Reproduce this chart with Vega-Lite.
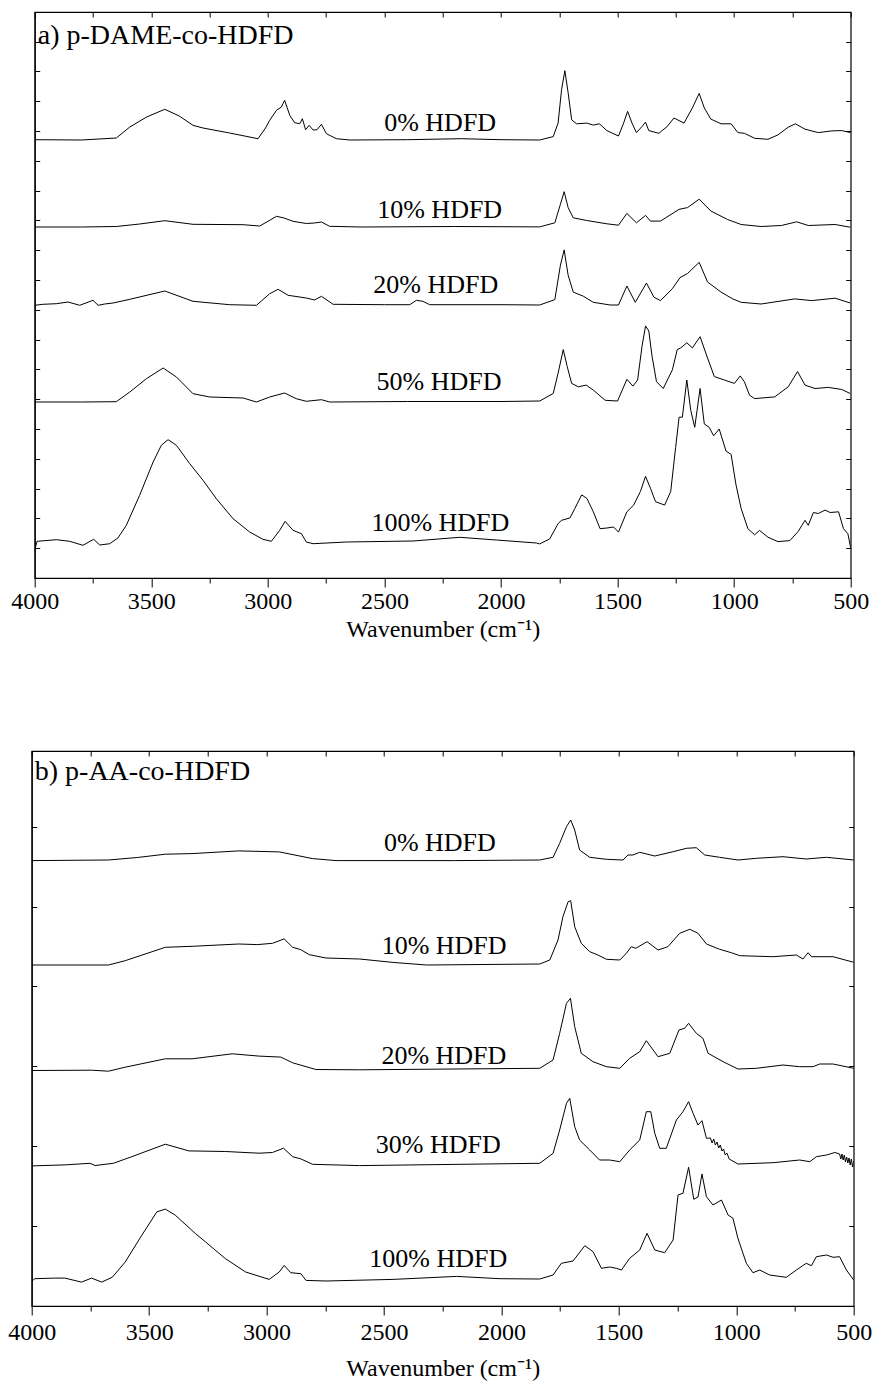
{
  "$schema": "https://vega.github.io/schema/vega-lite/v6.json",
  "padding": {"left": 6.5, "top": 10, "right": 0, "bottom": 0},
  "autosize": {"type": "pad"},
  "center": true,
  "spacing": 107,
  "config": {
    "font": "Liberation Serif, Times New Roman, serif",
    "view": {"stroke": "black", "strokeWidth": 1.2},
    "axis": {"grid": false, "domainColor": "black", "tickColor": "black", "labelColor": "black", "titleColor": "black", "labelFont": "Liberation Serif, Times New Roman, serif", "titleFont": "Liberation Serif, Times New Roman, serif", "titleFontWeight": "normal", "tickWidth": 1, "domainWidth": 1.2},
    "text": {"font": "Liberation Serif, Times New Roman, serif", "color": "black"}
  },
  "datasets": {
    "a": [
      {"s":"0%","w":4000,"h":438.3},{"s":"0%","w":3800,"h":438},{"s":"0%","w":3650,"h":440},{"s":"0%","w":3592,"h":451},{"s":"0%","w":3520,"h":461},{"s":"0%","w":3442,"h":468.7},{"s":"0%","w":3380,"h":462},{"s":"0%","w":3321,"h":452.7},{"s":"0%","w":3278,"h":450},{"s":"0%","w":3164,"h":445},{"s":"0%","w":3042,"h":439.3},{"s":"0%","w":3010,"h":450},{"s":"0%","w":2992,"h":457.7},{"s":"0%","w":2963,"h":467.7},{"s":"0%","w":2942,"h":471},{"s":"0%","w":2928,"h":477.7},{"s":"0%","w":2906,"h":462.7},{"s":"0%","w":2885,"h":455.3},{"s":"0%","w":2863,"h":454.3},{"s":"0%","w":2852,"h":459.3},{"s":"0%","w":2838,"h":448.3},{"s":"0%","w":2823,"h":452.7},{"s":"0%","w":2806,"h":448},{"s":"0%","w":2789,"h":448.3},{"s":"0%","w":2770,"h":453.7},{"s":"0%","w":2749,"h":444.3},{"s":"0%","w":2706,"h":439.3},{"s":"0%","w":2649,"h":438},{"s":"0%","w":2400,"h":438.3},{"s":"0%","w":2170,"h":439.3},{"s":"0%","w":2000,"h":438.3},{"s":"0%","w":1834,"h":438},{"s":"0%","w":1776,"h":441.4},{"s":"0%","w":1755,"h":454.9},{"s":"0%","w":1740,"h":488.7},{"s":"0%","w":1726,"h":507.3},{"s":"0%","w":1712,"h":485.3},{"s":"0%","w":1697,"h":458.3},{"s":"0%","w":1676,"h":454.2},{"s":"0%","w":1632,"h":454.9},{"s":"0%","w":1604,"h":452.9},{"s":"0%","w":1578,"h":454.2},{"s":"0%","w":1546,"h":447.4},{"s":"0%","w":1496,"h":442},{"s":"0%","w":1474,"h":454.9},{"s":"0%","w":1457,"h":466.7},{"s":"0%","w":1438,"h":454.9},{"s":"0%","w":1419,"h":445.4},{"s":"0%","w":1395,"h":451.5},{"s":"0%","w":1380,"h":455.9},{"s":"0%","w":1366,"h":447.4},{"s":"0%","w":1323,"h":444.7},{"s":"0%","w":1287,"h":451.5},{"s":"0%","w":1258,"h":460},{"s":"0%","w":1215,"h":454.9},{"s":"0%","w":1179,"h":470.1},{"s":"0%","w":1150,"h":484.6},{"s":"0%","w":1128,"h":470.1},{"s":"0%","w":1100,"h":458.9},{"s":"0%","w":1056,"h":454.2},{"s":"0%","w":1013,"h":454.2},{"s":"0%","w":984,"h":445.4},{"s":"0%","w":956,"h":444.7},{"s":"0%","w":912,"h":439.7},{"s":"0%","w":855,"h":438.7},{"s":"0%","w":812,"h":443.1},{"s":"0%","w":768,"h":450.8},{"s":"0%","w":737,"h":454.2},{"s":"0%","w":696,"h":448.8},{"s":"0%","w":639,"h":445.4},{"s":"0%","w":581,"h":447.1},{"s":"0%","w":538,"h":447.4},{"s":"0%","w":500,"h":445.4},
      {"s":"10%","w":4000,"h":351},{"s":"10%","w":3800,"h":351},{"s":"10%","w":3650,"h":351.5},{"s":"10%","w":3550,"h":354},{"s":"10%","w":3442,"h":357.3},{"s":"10%","w":3321,"h":353.7},{"s":"10%","w":3106,"h":353.3},{"s":"10%","w":3035,"h":352},{"s":"10%","w":2990,"h":358},{"s":"10%","w":2963,"h":361.7},{"s":"10%","w":2930,"h":360},{"s":"10%","w":2892,"h":356.7},{"s":"10%","w":2835,"h":354.5},{"s":"10%","w":2800,"h":355},{"s":"10%","w":2770,"h":356},{"s":"10%","w":2735,"h":351.7},{"s":"10%","w":2600,"h":351},{"s":"10%","w":2200,"h":351.5},{"s":"10%","w":1834,"h":351.1},{"s":"10%","w":1769,"h":355.2},{"s":"10%","w":1745,"h":373.8},{"s":"10%","w":1729,"h":386.3},{"s":"10%","w":1712,"h":370.4},{"s":"10%","w":1690,"h":360.2},{"s":"10%","w":1632,"h":357.5},{"s":"10%","w":1546,"h":354.2},{"s":"10%","w":1496,"h":352.8},{"s":"10%","w":1460,"h":364.6},{"s":"10%","w":1419,"h":355.2},{"s":"10%","w":1380,"h":362.6},{"s":"10%","w":1359,"h":356.9},{"s":"10%","w":1316,"h":356.9},{"s":"10%","w":1236,"h":368.7},{"s":"10%","w":1200,"h":370.4},{"s":"10%","w":1150,"h":378.8},{"s":"10%","w":1100,"h":367},{"s":"10%","w":1028,"h":358.5},{"s":"10%","w":970,"h":353.5},{"s":"10%","w":884,"h":351.5},{"s":"10%","w":797,"h":352.5},{"s":"10%","w":732,"h":356.2},{"s":"10%","w":682,"h":352.5},{"s":"10%","w":567,"h":353.5},{"s":"10%","w":502,"h":350.8},
      {"s":"20%","w":4000,"h":272.7},{"s":"20%","w":3965,"h":273.7},{"s":"20%","w":3907,"h":274.3},{"s":"20%","w":3857,"h":276},{"s":"20%","w":3807,"h":272.7},{"s":"20%","w":3750,"h":277.7},{"s":"20%","w":3728,"h":272.7},{"s":"20%","w":3700,"h":274},{"s":"20%","w":3664,"h":275},{"s":"20%","w":3592,"h":278.7},{"s":"20%","w":3442,"h":287},{"s":"20%","w":3321,"h":276.7},{"s":"20%","w":3164,"h":273.3},{"s":"20%","w":3049,"h":272.7},{"s":"20%","w":2992,"h":284.3},{"s":"20%","w":2956,"h":288.7},{"s":"20%","w":2913,"h":282.7},{"s":"20%","w":2835,"h":280},{"s":"20%","w":2800,"h":278},{"s":"20%","w":2770,"h":281.7},{"s":"20%","w":2720,"h":273.7},{"s":"20%","w":2500,"h":273.3},{"s":"20%","w":2391,"h":273.3},{"s":"20%","w":2363,"h":277.7},{"s":"20%","w":2335,"h":276.7},{"s":"20%","w":2306,"h":273.3},{"s":"20%","w":2000,"h":273.3},{"s":"20%","w":1834,"h":273},{"s":"20%","w":1769,"h":278.4},{"s":"20%","w":1745,"h":312.9},{"s":"20%","w":1729,"h":328.1},{"s":"20%","w":1712,"h":302.8},{"s":"20%","w":1690,"h":285.9},{"s":"20%","w":1647,"h":281.8},{"s":"20%","w":1604,"h":275.7},{"s":"20%","w":1532,"h":273},{"s":"20%","w":1496,"h":273},{"s":"20%","w":1460,"h":292},{"s":"20%","w":1424,"h":275.7},{"s":"20%","w":1376,"h":295},{"s":"20%","w":1344,"h":280.8},{"s":"20%","w":1316,"h":277.4},{"s":"20%","w":1265,"h":289.3},{"s":"20%","w":1232,"h":300.4},{"s":"20%","w":1200,"h":304.5},{"s":"20%","w":1150,"h":315.6},{"s":"20%","w":1114,"h":296},{"s":"20%","w":1056,"h":285.9},{"s":"20%","w":1006,"h":279.1},{"s":"20%","w":970,"h":275.7},{"s":"20%","w":884,"h":274},{"s":"20%","w":740,"h":279.1},{"s":"20%","w":668,"h":277.4},{"s":"20%","w":567,"h":279.8},{"s":"20%","w":502,"h":275},
      {"s":"50%","w":4000,"h":176},{"s":"50%","w":3800,"h":176},{"s":"50%","w":3650,"h":176.3},{"s":"50%","w":3592,"h":186},{"s":"50%","w":3521,"h":199.3},{"s":"50%","w":3449,"h":210},{"s":"50%","w":3392,"h":201},{"s":"50%","w":3321,"h":184.3},{"s":"50%","w":3249,"h":181},{"s":"50%","w":3106,"h":180},{"s":"50%","w":3049,"h":176},{"s":"50%","w":2992,"h":181},{"s":"50%","w":2928,"h":185},{"s":"50%","w":2878,"h":179.3},{"s":"50%","w":2835,"h":176.7},{"s":"50%","w":2770,"h":178.3},{"s":"50%","w":2735,"h":176},{"s":"50%","w":2400,"h":176.5},{"s":"50%","w":2000,"h":176.5},{"s":"50%","w":1834,"h":177},{"s":"50%","w":1776,"h":184.5},{"s":"50%","w":1755,"h":204.8},{"s":"50%","w":1733,"h":228.4},{"s":"50%","w":1716,"h":211.5},{"s":"50%","w":1697,"h":194.6},{"s":"50%","w":1668,"h":191.2},{"s":"50%","w":1635,"h":192.9},{"s":"50%","w":1604,"h":187.9},{"s":"50%","w":1553,"h":177.7},{"s":"50%","w":1500,"h":177},{"s":"50%","w":1460,"h":198.7},{"s":"50%","w":1434,"h":191.9},{"s":"50%","w":1414,"h":198},{"s":"50%","w":1395,"h":231.8},{"s":"50%","w":1380,"h":252.1},{"s":"50%","w":1366,"h":247},{"s":"50%","w":1352,"h":221.7},{"s":"50%","w":1333,"h":196.3},{"s":"50%","w":1304,"h":189.5},{"s":"50%","w":1265,"h":208.1},{"s":"50%","w":1244,"h":228.4},{"s":"50%","w":1229,"h":230.1},{"s":"50%","w":1203,"h":235.2},{"s":"50%","w":1179,"h":230.1},{"s":"50%","w":1146,"h":241.3},{"s":"50%","w":1114,"h":220},{"s":"50%","w":1085,"h":201.4},{"s":"50%","w":1042,"h":198},{"s":"50%","w":999,"h":194.6},{"s":"50%","w":974,"h":202.1},{"s":"50%","w":956,"h":196.3},{"s":"50%","w":934,"h":182.8},{"s":"50%","w":912,"h":179.4},{"s":"50%","w":826,"h":181.1},{"s":"50%","w":768,"h":191.2},{"s":"50%","w":728,"h":206.5},{"s":"50%","w":696,"h":192.9},{"s":"50%","w":653,"h":189.5},{"s":"50%","w":596,"h":190.6},{"s":"50%","w":538,"h":188.5},{"s":"50%","w":502,"h":184.5},
      {"s":"100%","w":4000,"h":27.7},{"s":"100%","w":3990,"h":36.7},{"s":"100%","w":3907,"h":38.3},{"s":"100%","w":3850,"h":36.7},{"s":"100%","w":3793,"h":32.7},{"s":"100%","w":3747,"h":38.7},{"s":"100%","w":3721,"h":33},{"s":"100%","w":3678,"h":34.3},{"s":"100%","w":3643,"h":40},{"s":"100%","w":3607,"h":52.7},{"s":"100%","w":3550,"h":82.7},{"s":"100%","w":3492,"h":116},{"s":"100%","w":3457,"h":132.7},{"s":"100%","w":3428,"h":138.3},{"s":"100%","w":3392,"h":132.7},{"s":"100%","w":3335,"h":114.3},{"s":"100%","w":3278,"h":97.7},{"s":"100%","w":3221,"h":79.3},{"s":"100%","w":3149,"h":59.3},{"s":"100%","w":3078,"h":46},{"s":"100%","w":3021,"h":38.7},{"s":"100%","w":2985,"h":36.7},{"s":"100%","w":2949,"h":47.7},{"s":"100%","w":2926,"h":56.7},{"s":"100%","w":2892,"h":47.7},{"s":"100%","w":2856,"h":44.3},{"s":"100%","w":2835,"h":36},{"s":"100%","w":2806,"h":34.3},{"s":"100%","w":2663,"h":36},{"s":"100%","w":2377,"h":37},{"s":"100%","w":2177,"h":40.7},{"s":"100%","w":2020,"h":38},{"s":"100%","w":1848,"h":35},{"s":"100%","w":1834,"h":34.1},{"s":"100%","w":1791,"h":39.1},{"s":"100%","w":1755,"h":54.4},{"s":"100%","w":1740,"h":57.7},{"s":"100%","w":1704,"h":60.1},{"s":"100%","w":1683,"h":69.6},{"s":"100%","w":1654,"h":83.1},{"s":"100%","w":1632,"h":79.7},{"s":"100%","w":1604,"h":66.2},{"s":"100%","w":1575,"h":49.3},{"s":"100%","w":1546,"h":50},{"s":"100%","w":1517,"h":51},{"s":"100%","w":1496,"h":45.9},{"s":"100%","w":1460,"h":66.2},{"s":"100%","w":1431,"h":72.9},{"s":"100%","w":1402,"h":86.5},{"s":"100%","w":1380,"h":101.7},{"s":"100%","w":1359,"h":89.8},{"s":"100%","w":1337,"h":76.3},{"s":"100%","w":1298,"h":72.9},{"s":"100%","w":1272,"h":86.5},{"s":"100%","w":1251,"h":130.4},{"s":"100%","w":1236,"h":160.8},{"s":"100%","w":1222,"h":160.8},{"s":"100%","w":1203,"h":198},{"s":"100%","w":1186,"h":167.6},{"s":"100%","w":1169,"h":150.7},{"s":"100%","w":1146,"h":189.5},{"s":"100%","w":1128,"h":154.1},{"s":"100%","w":1107,"h":150.7},{"s":"100%","w":1088,"h":142.2},{"s":"100%","w":1064,"h":149},{"s":"100%","w":1035,"h":127},{"s":"100%","w":1013,"h":123.6},{"s":"100%","w":992,"h":93.2},{"s":"100%","w":970,"h":69.6},{"s":"100%","w":941,"h":49.3},{"s":"100%","w":912,"h":43.2},{"s":"100%","w":891,"h":47.6},{"s":"100%","w":855,"h":40.8},{"s":"100%","w":812,"h":36.4},{"s":"100%","w":761,"h":37.4},{"s":"100%","w":725,"h":46.6},{"s":"100%","w":696,"h":57.7},{"s":"100%","w":682,"h":52.7},{"s":"100%","w":660,"h":65.5},{"s":"100%","w":639,"h":64.5},{"s":"100%","w":610,"h":67.9},{"s":"100%","w":588,"h":65.5},{"s":"100%","w":552,"h":66.2},{"s":"100%","w":531,"h":49.3},{"s":"100%","w":512,"h":44.2},{"s":"100%","w":500,"h":30}
    ],
    "b": [
      {"s":"0%","w":4000,"h":445.4},{"s":"0%","w":3673,"h":446},{"s":"0%","w":3550,"h":448.5},{"s":"0%","w":3431,"h":451.8},{"s":"0%","w":3317,"h":452.4},{"s":"0%","w":3118,"h":455.1},{"s":"0%","w":2946,"h":454.1},{"s":"0%","w":2804,"h":447.4},{"s":"0%","w":2704,"h":445.4},{"s":"0%","w":2200,"h":445.4},{"s":"0%","w":1837,"h":446},{"s":"0%","w":1780,"h":448.7},{"s":"0%","w":1752,"h":462.7},{"s":"0%","w":1723,"h":479.3},{"s":"0%","w":1705,"h":486},{"s":"0%","w":1688,"h":476},{"s":"0%","w":1667,"h":456},{"s":"0%","w":1624,"h":448.7},{"s":"0%","w":1553,"h":446.7},{"s":"0%","w":1482,"h":446},{"s":"0%","w":1461,"h":451},{"s":"0%","w":1440,"h":451},{"s":"0%","w":1411,"h":453.7},{"s":"0%","w":1347,"h":450},{"s":"0%","w":1269,"h":454.3},{"s":"0%","w":1212,"h":457.7},{"s":"0%","w":1170,"h":458.3},{"s":"0%","w":1134,"h":451},{"s":"0%","w":1071,"h":448.7},{"s":"0%","w":993,"h":446},{"s":"0%","w":914,"h":447.7},{"s":"0%","w":801,"h":449.3},{"s":"0%","w":702,"h":447},{"s":"0%","w":616,"h":448.7},{"s":"0%","w":500,"h":446},
      {"s":"10%","w":4000,"h":341},{"s":"10%","w":3673,"h":341},{"s":"10%","w":3602,"h":345.3},{"s":"10%","w":3431,"h":358.7},{"s":"10%","w":3317,"h":359.7},{"s":"10%","w":3118,"h":362},{"s":"10%","w":3039,"h":361.4},{"s":"10%","w":2975,"h":362.7},{"s":"10%","w":2925,"h":367.1},{"s":"10%","w":2889,"h":358.7},{"s":"10%","w":2854,"h":356.3},{"s":"10%","w":2818,"h":351.3},{"s":"10%","w":2747,"h":348},{"s":"10%","w":2604,"h":347},{"s":"10%","w":2462,"h":343.6},{"s":"10%","w":2319,"h":341},{"s":"10%","w":1837,"h":342},{"s":"10%","w":1794,"h":346},{"s":"10%","w":1759,"h":366},{"s":"10%","w":1738,"h":389.3},{"s":"10%","w":1716,"h":404.3},{"s":"10%","w":1705,"h":405.3},{"s":"10%","w":1688,"h":379.3},{"s":"10%","w":1660,"h":362.7},{"s":"10%","w":1624,"h":354.3},{"s":"10%","w":1589,"h":351},{"s":"10%","w":1553,"h":346.7},{"s":"10%","w":1496,"h":346},{"s":"10%","w":1468,"h":352.7},{"s":"10%","w":1447,"h":359.3},{"s":"10%","w":1428,"h":357.7},{"s":"10%","w":1380,"h":364.3},{"s":"10%","w":1333,"h":356},{"s":"10%","w":1291,"h":359.3},{"s":"10%","w":1241,"h":372.7},{"s":"10%","w":1198,"h":376.7},{"s":"10%","w":1163,"h":372.7},{"s":"10%","w":1127,"h":362},{"s":"10%","w":1071,"h":356.7},{"s":"10%","w":1021,"h":353.3},{"s":"10%","w":985,"h":350.3},{"s":"10%","w":843,"h":349.3},{"s":"10%","w":744,"h":351},{"s":"10%","w":716,"h":347},{"s":"10%","w":694,"h":353.3},{"s":"10%","w":680,"h":349.3},{"s":"10%","w":588,"h":349.3},{"s":"10%","w":500,"h":343.7},
      {"s":"20%","w":4000,"h":235.5},{"s":"20%","w":3745,"h":235.8},{"s":"20%","w":3673,"h":234.8},{"s":"20%","w":3602,"h":238.8},{"s":"20%","w":3431,"h":247.2},{"s":"20%","w":3317,"h":247.2},{"s":"20%","w":3146,"h":252.2},{"s":"20%","w":3032,"h":249.9},{"s":"20%","w":2939,"h":248.9},{"s":"20%","w":2889,"h":243.2},{"s":"20%","w":2790,"h":236.5},{"s":"20%","w":2604,"h":236.2},{"s":"20%","w":1837,"h":237.7},{"s":"20%","w":1780,"h":246},{"s":"20%","w":1752,"h":272.7},{"s":"20%","w":1723,"h":302.7},{"s":"20%","w":1706,"h":307.7},{"s":"20%","w":1688,"h":279.3},{"s":"20%","w":1660,"h":252.7},{"s":"20%","w":1610,"h":244.3},{"s":"20%","w":1553,"h":239.3},{"s":"20%","w":1496,"h":237.7},{"s":"20%","w":1454,"h":247.7},{"s":"20%","w":1411,"h":254.3},{"s":"20%","w":1383,"h":265.3},{"s":"20%","w":1333,"h":249.3},{"s":"20%","w":1283,"h":252.7},{"s":"20%","w":1244,"h":276},{"s":"20%","w":1220,"h":277.7},{"s":"20%","w":1203,"h":282.7},{"s":"20%","w":1170,"h":272.7},{"s":"20%","w":1142,"h":267.7},{"s":"20%","w":1120,"h":252.7},{"s":"20%","w":1056,"h":244.3},{"s":"20%","w":993,"h":237},{"s":"20%","w":914,"h":237.7},{"s":"20%","w":801,"h":241},{"s":"20%","w":730,"h":239.3},{"s":"20%","w":673,"h":239.3},{"s":"20%","w":645,"h":242},{"s":"20%","w":588,"h":242},{"s":"20%","w":500,"h":237.7},
      {"s":"30%","w":4000,"h":140.1},{"s":"30%","w":3859,"h":141.1},{"s":"30%","w":3752,"h":142.7},{"s":"30%","w":3730,"h":140.5},{"s":"30%","w":3652,"h":142.7},{"s":"30%","w":3574,"h":149.3},{"s":"30%","w":3431,"h":161.8},{"s":"30%","w":3331,"h":155.1},{"s":"30%","w":3175,"h":154.5},{"s":"30%","w":3032,"h":152.8},{"s":"30%","w":2975,"h":153.5},{"s":"30%","w":2928,"h":157.8},{"s":"30%","w":2889,"h":149.3},{"s":"30%","w":2854,"h":147.1},{"s":"30%","w":2804,"h":141.7},{"s":"30%","w":2604,"h":140.4},{"s":"30%","w":1837,"h":142.7},{"s":"30%","w":1780,"h":152.7},{"s":"30%","w":1752,"h":176},{"s":"30%","w":1723,"h":202.7},{"s":"30%","w":1709,"h":207.7},{"s":"30%","w":1688,"h":179.3},{"s":"30%","w":1667,"h":166},{"s":"30%","w":1624,"h":156},{"s":"30%","w":1582,"h":146},{"s":"30%","w":1539,"h":146},{"s":"30%","w":1496,"h":144.3},{"s":"30%","w":1454,"h":156},{"s":"30%","w":1411,"h":166},{"s":"30%","w":1383,"h":194.3},{"s":"30%","w":1364,"h":194.3},{"s":"30%","w":1347,"h":172.7},{"s":"30%","w":1326,"h":157.7},{"s":"30%","w":1298,"h":157.7},{"s":"30%","w":1255,"h":186},{"s":"30%","w":1227,"h":194.3},{"s":"30%","w":1203,"h":204.3},{"s":"30%","w":1184,"h":192.7},{"s":"30%","w":1163,"h":181},{"s":"30%","w":1146,"h":185.3},{"s":"30%","w":1127,"h":167.7},{"s":"30%","w":1110,"h":168},{"s":"30%","w":1103,"h":163},{"s":"30%","w":1096,"h":167},{"s":"30%","w":1089,"h":161},{"s":"30%","w":1082,"h":164},{"s":"30%","w":1075,"h":158},{"s":"30%","w":1068,"h":161},{"s":"30%","w":1061,"h":155},{"s":"30%","w":1054,"h":157},{"s":"30%","w":1047,"h":151},{"s":"30%","w":1040,"h":153},{"s":"30%","w":1030,"h":147},{"s":"30%","w":993,"h":142},{"s":"30%","w":843,"h":143.3},{"s":"30%","w":730,"h":146},{"s":"30%","w":687,"h":144.3},{"s":"30%","w":659,"h":149.3},{"s":"30%","w":616,"h":151},{"s":"30%","w":580,"h":153.5},{"s":"30%","w":560,"h":152},{"s":"30%","w":555,"h":147},{"s":"30%","w":550,"h":152},{"s":"30%","w":545,"h":146},{"s":"30%","w":540,"h":151},{"s":"30%","w":535,"h":144},{"s":"30%","w":530,"h":149},{"s":"30%","w":525,"h":143},{"s":"30%","w":520,"h":148},{"s":"30%","w":515,"h":141},{"s":"30%","w":510,"h":147},{"s":"30%","w":505,"h":139},{"s":"30%","w":500,"h":145},
      {"s":"100%","w":4000,"h":24.6},{"s":"100%","w":3987,"h":27.3},{"s":"100%","w":3902,"h":27.9},{"s":"100%","w":3859,"h":27.9},{"s":"100%","w":3788,"h":23.9},{"s":"100%","w":3745,"h":27.9},{"s":"100%","w":3702,"h":23.9},{"s":"100%","w":3656,"h":28.9},{"s":"100%","w":3602,"h":44},{"s":"100%","w":3531,"h":70.8},{"s":"100%","w":3467,"h":94.2},{"s":"100%","w":3431,"h":96.9},{"s":"100%","w":3389,"h":90.9},{"s":"100%","w":3303,"h":72.5},{"s":"100%","w":3260,"h":64.1},{"s":"100%","w":3175,"h":47.3},{"s":"100%","w":3089,"h":34},{"s":"100%","w":2989,"h":26.6},{"s":"100%","w":2946,"h":34},{"s":"100%","w":2925,"h":40.6},{"s":"100%","w":2897,"h":33.3},{"s":"100%","w":2854,"h":32.3},{"s":"100%","w":2832,"h":25.6},{"s":"100%","w":2747,"h":25},{"s":"100%","w":2462,"h":26.6},{"s":"100%","w":2191,"h":29.6},{"s":"100%","w":2006,"h":27.3},{"s":"100%","w":1837,"h":27},{"s":"100%","w":1780,"h":31},{"s":"100%","w":1745,"h":42.7},{"s":"100%","w":1695,"h":45},{"s":"100%","w":1645,"h":60.3},{"s":"100%","w":1610,"h":54.3},{"s":"100%","w":1574,"h":37.7},{"s":"100%","w":1539,"h":39},{"s":"100%","w":1511,"h":37.7},{"s":"100%","w":1489,"h":36},{"s":"100%","w":1454,"h":47.7},{"s":"100%","w":1411,"h":56},{"s":"100%","w":1380,"h":72.7},{"s":"100%","w":1347,"h":56},{"s":"100%","w":1305,"h":53.3},{"s":"100%","w":1269,"h":66},{"s":"100%","w":1248,"h":111},{"s":"100%","w":1227,"h":112.7},{"s":"100%","w":1203,"h":138.7},{"s":"100%","w":1181,"h":106.7},{"s":"100%","w":1163,"h":109},{"s":"100%","w":1146,"h":132},{"s":"100%","w":1127,"h":109.3},{"s":"100%","w":1099,"h":101},{"s":"100%","w":1063,"h":106},{"s":"100%","w":1035,"h":91},{"s":"100%","w":1014,"h":87.7},{"s":"100%","w":993,"h":67.7},{"s":"100%","w":957,"h":42.7},{"s":"100%","w":929,"h":33.3},{"s":"100%","w":900,"h":36},{"s":"100%","w":858,"h":31},{"s":"100%","w":787,"h":28.7},{"s":"100%","w":744,"h":36},{"s":"100%","w":702,"h":42.7},{"s":"100%","w":680,"h":40.3},{"s":"100%","w":659,"h":49.3},{"s":"100%","w":616,"h":51},{"s":"100%","w":588,"h":48.7},{"s":"100%","w":560,"h":49.3},{"s":"100%","w":531,"h":36},{"s":"100%","w":500,"h":26}
    ],
    "la": [
      {"t":"0% HDFD","w":2261,"h":455.3},{"t":"10% HDFD","w":2263,"h":368.3},{"t":"20% HDFD","w":2280,"h":292.7},{"t":"50% HDFD","w":2266,"h":196},{"t":"100% HDFD","w":2260,"h":55}
    ],
    "ta": [{"t":"a) p-DAME-co-HDFD","w":3987,"h":542}],
    "lb": [
      {"t":"0% HDFD","w":2262,"h":463.5},{"t":"10% HDFD","w":2244,"h":360.4},{"t":"20% HDFD","w":2245,"h":249.9},{"t":"30% HDFD","w":2269,"h":161.2},{"t":"100% HDFD","w":2269,"h":47.3}
    ],
    "tb": [{"t":"b) p-AA-co-HDFD","w":3987,"h":534}]
  },
  "vconcat": [
    {
      "width": 816,
      "height": 566,
      "resolve": {"axis": {"x": "independent", "y": "independent"}},
      "layer": [
        {
          "data": {"name": "a"},
          "mark": {"type": "line", "color": "black", "strokeWidth": 1, "clip": true},
          "encoding": {
            "x": {"field": "w", "type": "quantitative", "scale": {"domain": [500, 4000], "reverse": true, "nice": false, "zero": false},
                  "axis": {"orient": "bottom", "values": [4000,3500,3000,2500,2000,1500,1000,500], "format": "d", "tickSize": 9, "labelFontSize": 24, "labelPadding": 2, "title": "Wavenumber (cm⁻¹)", "titleFontSize": 24, "titlePadding": 4, "labelFlush": false}},
            "y": {"field": "h", "type": "quantitative", "scale": {"domain": [0, 566], "nice": false, "zero": false},
                  "axis": {"orient": "left", "values": [29.8,59.6,89.4,119.2,149,178.8,208.6,238.4,268.2,298,327.8,357.6,387.4,417.2,447,476.8,506.6,536.4], "labels": false, "tickSize": -5, "title": null}},
            "detail": {"field": "s"}
          }
        },
        {
          "data": {"name": "la"},
          "mark": {"type": "text", "fontSize": 26, "align": "center", "baseline": "middle", "font": "Liberation Serif, Times New Roman, serif"},
          "encoding": {
            "x": {"field": "w", "type": "quantitative", "scale": {"domain": [500, 4000], "reverse": true, "nice": false, "zero": false},
                  "axis": {"orient": "top", "values": [4000,3750,3500,3250,3000,2750,2500,2250,2000,1750,1500,1250,1000,750,500], "labels": false, "tickSize": -5, "title": null, "domain": false}},
            "y": {"field": "h", "type": "quantitative", "scale": {"domain": [0, 566], "nice": false, "zero": false},
                  "axis": {"orient": "right", "values": [29.8,59.6,89.4,119.2,149,178.8,208.6,238.4,268.2,298,327.8,357.6,387.4,417.2,447,476.8,506.6,536.4], "labels": false, "tickSize": -5, "title": null, "domain": false}},
            "text": {"field": "t"}
          }
        },
        {
          "data": {"name": "ta"},
          "mark": {"type": "text", "fontSize": 28, "align": "left", "baseline": "middle", "font": "Liberation Serif, Times New Roman, serif"},
          "encoding": {
            "x": {"field": "w", "type": "quantitative", "scale": {"domain": [500, 4000], "reverse": true, "nice": false, "zero": false},
                  "axis": {"orient": "bottom", "values": [3750,3250,2750,2250,1750,1250,750], "labels": false, "tickSize": 5, "title": null, "domain": false}},
            "y": {"field": "h", "type": "quantitative", "scale": {"domain": [0, 566], "nice": false, "zero": false}, "axis": null},
            "text": {"field": "t"}
          }
        }
      ]
    },
    {
      "width": 822,
      "height": 555,
      "resolve": {"axis": {"x": "independent", "y": "independent"}},
      "layer": [
        {
          "data": {"name": "b"},
          "mark": {"type": "line", "color": "black", "strokeWidth": 1, "clip": true},
          "encoding": {
            "x": {"field": "w", "type": "quantitative", "scale": {"domain": [500, 4000], "reverse": true, "nice": false, "zero": false},
                  "axis": {"orient": "bottom", "values": [4000,3500,3000,2500,2000,1500,1000,500], "format": "d", "tickSize": 9, "labelFontSize": 24, "labelPadding": 5, "title": "Wavenumber (cm⁻¹)", "titleFontSize": 24, "titlePadding": 12, "labelFlush": false}},
            "y": {"field": "h", "type": "quantitative", "scale": {"domain": [0, 555], "nice": false, "zero": false},
                  "axis": {"orient": "left", "values": [79.9,159.8,239.7,319.6,399.5,479.4], "labels": false, "tickSize": -5, "title": null}},
            "detail": {"field": "s"}
          }
        },
        {
          "data": {"name": "lb"},
          "mark": {"type": "text", "fontSize": 26, "align": "center", "baseline": "middle", "font": "Liberation Serif, Times New Roman, serif"},
          "encoding": {
            "x": {"field": "w", "type": "quantitative", "scale": {"domain": [500, 4000], "reverse": true, "nice": false, "zero": false},
                  "axis": {"orient": "top", "values": [4000,3750,3500,3250,3000,2750,2500,2250,2000,1750,1500,1250,1000,750,500], "labels": false, "tickSize": -5, "title": null, "domain": false}},
            "y": {"field": "h", "type": "quantitative", "scale": {"domain": [0, 555], "nice": false, "zero": false},
                  "axis": {"orient": "right", "values": [79.9,159.8,239.7,319.6,399.5,479.4], "labels": false, "tickSize": -5, "title": null, "domain": false}},
            "text": {"field": "t"}
          }
        },
        {
          "data": {"name": "tb"},
          "mark": {"type": "text", "fontSize": 28, "align": "left", "baseline": "middle", "font": "Liberation Serif, Times New Roman, serif"},
          "encoding": {
            "x": {"field": "w", "type": "quantitative", "scale": {"domain": [500, 4000], "reverse": true, "nice": false, "zero": false},
                  "axis": {"orient": "bottom", "values": [3750,3250,2750,2250,1750,1250,750], "labels": false, "tickSize": 5, "title": null, "domain": false}},
            "y": {"field": "h", "type": "quantitative", "scale": {"domain": [0, 555], "nice": false, "zero": false}, "axis": null},
            "text": {"field": "t"}
          }
        }
      ]
    }
  ]
}
